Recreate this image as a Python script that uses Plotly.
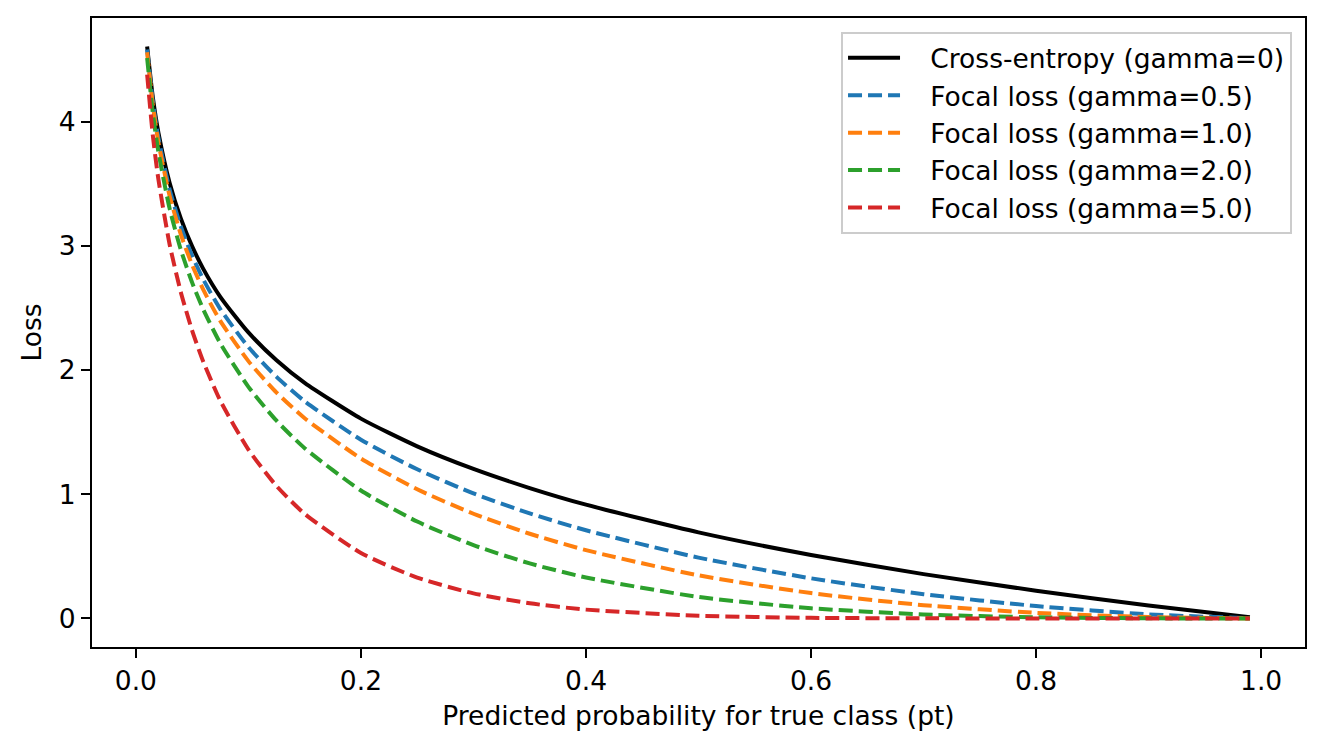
import plotly.graph_objects as go

# Predicted probability for true class (pt)
pt = [0.01, 0.015, 0.02, 0.03, 0.04, 0.05, 0.06, 0.075, 0.1, 0.125, 0.15, 0.2,
      0.25, 0.3, 0.35, 0.4, 0.5, 0.6, 0.7, 0.8, 0.9, 0.99]

# Loss values
ce = [4.605, 4.200, 3.912, 3.507, 3.219, 2.996, 2.813, 2.590, 2.303, 2.079, 1.897, 1.609,
      1.386, 1.204, 1.050, 0.916, 0.693, 0.511, 0.357, 0.223, 0.105, 0.010]
fl_05 = [4.582, 4.168, 3.873, 3.454, 3.154, 2.920, 2.728, 2.491, 2.185, 1.945, 1.749, 1.439,
         1.201, 1.007, 0.846, 0.710, 0.490, 0.323, 0.195, 0.100, 0.033, 0.001]
fl_10 = [4.559, 4.137, 3.834, 3.402, 3.090, 2.846, 2.645, 2.396, 2.072, 1.819, 1.612, 1.288,
         1.040, 0.843, 0.682, 0.550, 0.347, 0.204, 0.107, 0.045, 0.011, 0.000]
fl_20 = [4.513, 4.075, 3.757, 3.300, 2.967, 2.704, 2.486, 2.216, 1.865, 1.592, 1.371, 1.030,
         0.780, 0.590, 0.443, 0.330, 0.173, 0.082, 0.032, 0.009, 0.001, 0.000]
fl_50 = [4.379, 3.894, 3.536, 3.011, 2.625, 2.318, 2.065, 1.754, 1.360, 1.066, 0.842, 0.527,
         0.329, 0.202, 0.122, 0.071, 0.022, 0.005, 0.001, 0.000, 0.000, 0.000]

names = ["Cross-entropy (gamma=0)", "Focal loss (gamma=0.5)", "Focal loss (gamma=1.0)",
         "Focal loss (gamma=2.0)", "Focal loss (gamma=5.0)"]
series = [ce, fl_05, fl_10, fl_20, fl_50]
colors = ["#000000", "#1f77b4", "#ff7f0e", "#2ca02c", "#d62728"]
dashes = ["solid", "14px,6px", "14px,6px", "14px,6px", "14px,6px"]

FONT = "DejaVu Sans"
FS = 26.5
GAP = "\u00a0\u00a0\u00a0"

fig = go.Figure()
for n, y, c, d in zip(names, series, colors, dashes):
    fig.add_trace(go.Scatter(x=pt, y=y, mode="lines", name=GAP + n,
                             line=dict(color=c, width=4, dash=d, shape="spline", smoothing=0.6)))

axis_common = dict(showgrid=False, zeroline=False, showline=True, linecolor="black",
                   linewidth=2, mirror=True, ticks="outside", ticklen=9, tickwidth=2,
                   tickcolor="black", tickfont=dict(family=FONT, size=FS, color="black"))

fig.update_layout(
    width=1324, height=748,
    margin=dict(l=92, r=19, t=18, b=101),
    paper_bgcolor="white", plot_bgcolor="white",
    font=dict(family=FONT, size=FS, color="black"),
    xaxis=dict(range=[-0.039, 1.039], tickvals=[0, 0.2, 0.4, 0.6, 0.8, 1.0],
               ticktext=["0.0", "0.2", "0.4", "0.6", "0.8", "1.0"],
               title=dict(text="Predicted probability for true class (pt)",
                          font=dict(family=FONT, size=FS), standoff=12),
               **axis_common),
    yaxis=dict(range=[-0.230, 4.835], tickvals=[0, 1, 2, 3, 4],
               ticktext=["0", "1", "2", "3", "4"],
               title=dict(text="Loss", font=dict(family=FONT, size=FS), standoff=10),
               **axis_common),
    legend=dict(x=0.9893, y=0.9777, xanchor="right", yanchor="top",
                bgcolor="rgba(255,255,255,0.8)", bordercolor="#cccccc", borderwidth=2,
                font=dict(family=FONT, size=FS, color="black"), itemwidth=52,
                tracegroupgap=0),
    showlegend=True,
)

fig.write_html("out.html")
